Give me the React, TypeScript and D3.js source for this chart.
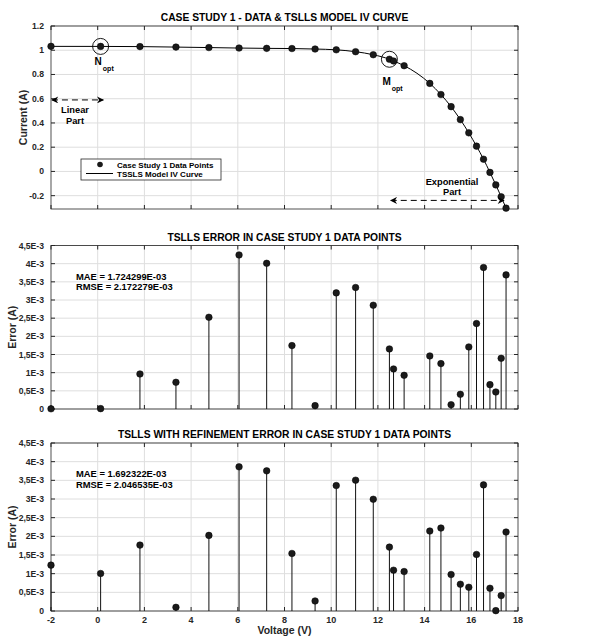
import React, { useEffect, useRef } from 'react';
import * as d3 from 'd3';

// measured data points (V, A)
const voltage = [-2, 0.1248, 1.8093, 3.3511, 4.7622, 6.0538, 7.2364, 8.3189, 9.3097, 10.2163, 11.0449, 11.8018, 12.4929, 12.67, 13.1231, 14.2221, 14.6995, 15.1346, 15.5311, 15.8929, 16.2229, 16.5241, 16.7987, 17.0499, 17.2793, 17.4885];
const current = [1.032, 1.0315, 1.03, 1.026, 1.022, 1.018, 1.0155, 1.014, 1.01, 1.0035, 0.988, 0.963, 0.9255, 0.911, 0.8725, 0.7265, 0.6345, 0.5345, 0.4275, 0.3185, 0.2085, 0.101, -0.008, -0.111, -0.209, -0.303];

// absolute errors, in units of 1E-3 A
const errTslls = [0.005, 0.01, 0.964, 0.735, 2.525, 4.24, 4.01, 1.745, 0.092, 3.196, 3.343, 2.856, 1.653, 1.102, 0.927, 1.46, 1.249, 0.119, 0.404, 1.708, 2.351, 3.893, 0.67, 0.468, 1.396, 3.691];
const errRefined = [1.228, 1.004, 1.765, 0.099, 2.025, 3.862, 3.754, 1.541, 0.269, 3.36, 3.504, 2.993, 1.711, 1.093, 1.057, 2.142, 2.222, 0.977, 0.717, 0.636, 1.514, 3.378, 0.609, 0.009, 0.412, 2.115];

const xTicks = [-2, 0, 2, 4, 6, 8, 10, 12, 14, 16, 18];
const ivTicks = [-0.2, 0, 0.2, 0.4, 0.6, 0.8, 1, 1.2];
const errTicks = [0, 0.5, 1, 1.5, 2, 2.5, 3, 3.5, 4, 4.5];
const errTickLabels = ['0', '0,5E-3', '1E-3', '1,5E-3', '2E-3', '2,5E-3', '3E-3', '3,5E-3', '4E-3', '4,5E-3'];

const FONT = '"Liberation Sans", Arial, Helvetica, sans-serif';
const AXIS = '#262626';
const GRID = '#dedede';

const App = () => {
  const ref = useRef<SVGSVGElement>(null);

  useEffect(() => {
    const svg = d3.select(ref.current);
    svg.selectAll('*').remove();

    const left = 51;
    const right = 518;
    const x = d3.scaleLinear().domain([-2, 18]).range([left, right]);

    svg
      .append('defs')
      .append('marker')
      .attr('id', 'head')
      .attr('viewBox', '0 0 10 10')
      .attr('refX', 9)
      .attr('refY', 5)
      .attr('markerWidth', 9)
      .attr('markerHeight', 7)
      .attr('orient', 'auto-start-reverse')
      .attr('markerUnits', 'userSpaceOnUse')
      .append('path')
      .attr('d', 'M0,0 L10,5 L0,10 L3,5 Z')
      .attr('fill', '#000');

    // draws frame, grid, ticks for one panel
    const frame = (g, y, yTicks, yLabels, title, ylabel, showX) => {
      const [bottom, top] = y.range();
      g.append('g')
        .selectAll('line')
        .data(xTicks.slice(1, -1))
        .enter()
        .append('line')
        .attr('x1', (d) => x(d))
        .attr('x2', (d) => x(d))
        .attr('y1', top)
        .attr('y2', bottom)
        .attr('stroke', GRID);
      g.append('g')
        .selectAll('line')
        .data(yTicks)
        .enter()
        .append('line')
        .attr('x1', left)
        .attr('x2', right)
        .attr('y1', (d) => y(d))
        .attr('y2', (d) => y(d))
        .attr('stroke', GRID);

      // inward ticks on all sides
      const tk = 4;
      xTicks.forEach((d) => {
        g.append('line').attr('x1', x(d)).attr('x2', x(d)).attr('y1', bottom).attr('y2', bottom - tk).attr('stroke', AXIS);
        g.append('line').attr('x1', x(d)).attr('x2', x(d)).attr('y1', top).attr('y2', top + tk).attr('stroke', AXIS);
      });
      yTicks.forEach((d) => {
        g.append('line').attr('x1', left).attr('x2', left + tk).attr('y1', y(d)).attr('y2', y(d)).attr('stroke', AXIS);
        g.append('line').attr('x1', right).attr('x2', right - tk).attr('y1', y(d)).attr('y2', y(d)).attr('stroke', AXIS);
      });
      g.append('rect')
        .attr('x', left)
        .attr('y', top)
        .attr('width', right - left)
        .attr('height', bottom - top)
        .attr('fill', 'none')
        .attr('stroke', AXIS)
        .attr('stroke-width', 0.8);

      g.append('g')
        .selectAll('text')
        .data(yTicks)
        .enter()
        .append('text')
        .attr('x', left - 7)
        .attr('y', (d) => y(d))
        .attr('dy', '0.35em')
        .attr('text-anchor', 'end')
        .attr('font-size', 8.6)
        .attr('font-weight', 'bold')
        .attr('fill', AXIS)
        .text((d, i) => yLabels[i]);

      if (showX) {
        g.append('g')
          .selectAll('text')
          .data(xTicks)
          .enter()
          .append('text')
          .attr('x', (d) => x(d))
          .attr('y', bottom + 12)
          .attr('text-anchor', 'middle')
          .attr('font-size', 9)
          .attr('font-weight', 'bold')
          .attr('fill', AXIS)
          .text((d) => d);
      }

      g.append('text')
        .attr('x', (left + right) / 2)
        .attr('y', top - 5)
        .attr('text-anchor', 'middle')
        .attr('font-size', 10.3)
        .attr('font-weight', 'bold')
        .attr('fill', '#000')
        .text(title);

      g.append('text')
        .attr('transform', `translate(${ylabel.x},${(top + bottom) / 2}) rotate(-90)`)
        .attr('text-anchor', 'middle')
        .attr('dy', '0.35em')
        .attr('font-size', 10.5)
        .attr('font-weight', 'bold')
        .attr('fill', AXIS)
        .text(ylabel.text);
    };

    // ---- panel 1: IV curve
    const g1 = svg.append('g');
    const y1 = d3.scaleLinear().domain([-0.31, 1.2]).range([209, 26]);
    frame(g1, y1, ivTicks, ivTicks.map((d) => String(+d.toFixed(1))), 'CASE STUDY 1 - DATA & TSLLS MODEL IV CURVE', { x: 23, text: 'Current (A)' }, false);

    const pts = voltage.map((v, i) => [v, current[i]]);
    const line = d3
      .line()
      .x((d) => x(d[0]))
      .y((d) => y1(d[1]))
      .curve(d3.curveMonotoneX);
    g1.append('path').attr('d', line(pts)).attr('fill', 'none').attr('stroke', '#000').attr('stroke-width', 1);
    g1.append('g')
      .selectAll('circle')
      .data(pts)
      .enter()
      .append('circle')
      .attr('cx', (d) => x(d[0]))
      .attr('cy', (d) => y1(d[1]))
      .attr('r', 3.3)
      .attr('fill', '#1a1a1a')
      .attr('stroke', '#000')
      .attr('stroke-width', 0.5);

    // Nopt / Mopt highlights
    [[1, 'N', -6, 19], [12, 'M', -7, 26]].forEach(([i, lab, dx, dy]) => {
      const cx = x(voltage[i]);
      const cy = y1(current[i]);
      g1.append('circle').attr('cx', cx).attr('cy', cy).attr('r', 8).attr('fill', 'none').attr('stroke', '#000').attr('stroke-width', 0.9);
      const t = g1.append('text').attr('x', cx + dx).attr('y', cy + dy).attr('font-weight', 'bold').attr('fill', '#000');
      t.append('tspan').attr('font-size', 10).text(lab);
      t.append('tspan').attr('font-size', 7).attr('dx', 1).attr('dy', 6).text('opt');
    });

    const arrow = (x0, x1, yv) =>
      g1.append('line')
        .attr('x1', x(x0))
        .attr('x2', x(x1))
        .attr('y1', y1(yv))
        .attr('y2', y1(yv))
        .attr('stroke', '#000')
        .attr('stroke-width', 1)
        .attr('stroke-dasharray', '6,4')
        .attr('marker-start', 'url(#head)')
        .attr('marker-end', 'url(#head)');
    arrow(-1.96, 0.24, 0.59);
    arrow(12.55, 17.4, -0.239);

    const note = (cx, yTop, lines) =>
      lines.forEach((s, i) =>
        g1.append('text')
          .attr('x', cx)
          .attr('y', yTop + i * 10.5)
          .attr('text-anchor', 'middle')
          .attr('font-size', 9.3)
          .attr('font-weight', 'bold')
          .attr('fill', '#000')
          .text(s)
      );
    note(75, 113, ['Linear', 'Part']);
    note(452, 184.5, ['Exponential', 'Part']);

    // legend
    const lg = g1.append('g').attr('transform', 'translate(81,159)');
    lg.append('rect').attr('width', 140).attr('height', 21).attr('fill', '#fff').attr('stroke', AXIS).attr('stroke-width', 0.8);
    lg.append('circle').attr('cx', 19).attr('cy', 5.5).attr('r', 2.8).attr('fill', '#1a1a1a');
    lg.append('line').attr('x1', 5).attr('x2', 32).attr('y1', 14.5).attr('y2', 14.5).attr('stroke', '#000');
    lg.append('text').attr('x', 36).attr('y', 8.5).attr('font-size', 8).attr('font-weight', 'bold').text('Case Study 1 Data Points');
    lg.append('text').attr('x', 36).attr('y', 17.5).attr('font-size', 8).attr('font-weight', 'bold').text('TSSLS Model IV Curve');

    // ---- error panels
    const stemPanel = (top, bottom, errs, title, mae, rmse, showX) => {
      const g = svg.append('g');
      const y = d3.scaleLinear().domain([0, 4.5]).range([bottom, top]);
      frame(g, y, errTicks, errTickLabels, title, { x: 12, text: 'Error (A)' }, showX);
      g.append('g')
        .selectAll('line')
        .data(errs)
        .enter()
        .append('line')
        .attr('x1', (d, i) => x(voltage[i]))
        .attr('x2', (d, i) => x(voltage[i]))
        .attr('y1', y(0))
        .attr('y2', (d) => y(d))
        .attr('stroke', '#111')
        .attr('stroke-width', 1);
      g.append('g')
        .selectAll('circle')
        .data(errs)
        .enter()
        .append('circle')
        .attr('cx', (d, i) => x(voltage[i]))
        .attr('cy', (d) => y(d))
        .attr('r', 3.3)
        .attr('fill', '#1a1a1a')
        .attr('stroke', '#000')
        .attr('stroke-width', 0.5);
      [mae, rmse].forEach((s, i) =>
        g.append('text')
          .attr('x', 76)
          .attr('y', top + 34 + i * 10.8)
          .attr('font-size', 9.4)
          .attr('font-weight', 'bold')
          .attr('fill', '#000')
          .text(s)
      );
      return g;
    };

    stemPanel(245.5, 409, errTslls, 'TSLLS ERROR IN CASE STUDY 1 DATA POINTS', 'MAE = 1.724299E-03', 'RMSE = 2.172279E-03', false);
    const g3 = stemPanel(443, 611, errRefined, 'TSLLS WITH REFINEMENT ERROR IN CASE STUDY 1 DATA POINTS', 'MAE = 1.692322E-03', 'RMSE = 2.046535E-03', true);
    g3.append('text')
      .attr('x', (left + right) / 2)
      .attr('y', 634)
      .attr('text-anchor', 'middle')
      .attr('font-size', 10.5)
      .attr('font-weight', 'bold')
      .attr('fill', AXIS)
      .text('Voltage (V)');
  }, []);

  return (
    <svg
      ref={ref}
      width={591}
      height={640}
      style={{ position: 'absolute', left: 0, top: 0, background: '#fff', fontFamily: FONT }}
    />
  );
};

export default App;
